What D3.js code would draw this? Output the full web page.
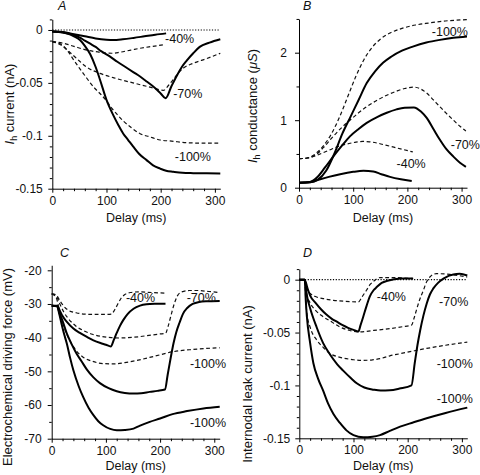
<!DOCTYPE html>
<html><head><meta charset="utf-8">
<script src="https://cdn.jsdelivr.net/npm/d3@7"></script>
<style>
html,body{margin:0;padding:0;background:#fff;}
svg{display:block;font-family:"Liberation Sans",Arial,Helvetica,sans-serif;}
</style></head><body>
<svg id="chart" width="480" height="475"></svg>
<script>
// ---------- shared axis data ----------
const delayTicks = [0, 100, 200, 300];
const delayLabels = ["0", "100", "200", "300"];
const delayMinor = [20, 40, 60, 80, 120, 140, 160, 180, 220, 240, 260, 280];

// ---------- Panel A: Ih current (nA) ----------
const aTicks = [0, -0.05, -0.1, -0.15];
const aLabels = ["0", "-0.05", "-0.1", "-0.15"];
const aMinor = [0.01, -0.01, -0.02, -0.03, -0.04, -0.06, -0.07, -0.08, -0.09, -0.11, -0.12, -0.13, -0.14];
const aZero = [[0, 0], [310, 0]];
const aSolid40 = [[0,-0.0015],[20,-0.002],[40,-0.004],[60,-0.006],[80,-0.008],[100,-0.0092],[112,-0.0095],[130,-0.0088],[150,-0.0075],[170,-0.006],[190,-0.0045],[210,-0.0032]];
const aDash40 = [[0,-0.011],[20,-0.0125],[40,-0.0155],[60,-0.0185],[80,-0.0205],[100,-0.0218],[110,-0.022],[125,-0.021],[145,-0.019],[165,-0.017],[185,-0.0155],[205,-0.014]];
const aSolid70 = [[0,-0.0015],[20,-0.0025],[35,-0.004],[50,-0.007],[60,-0.010],[70,-0.013],[80,-0.016],[90,-0.020],[106,-0.025],[120,-0.030],[135,-0.035],[150,-0.040],[162,-0.044],[175,-0.049],[190,-0.055],[200,-0.060],[209,-0.0646],[220,-0.053],[230,-0.043],[239,-0.035],[248,-0.029],[260,-0.022],[272,-0.016],[290,-0.012],[310,-0.0088]];
const aDash70 = [[0,-0.011],[15,-0.014],[30,-0.020],[45,-0.027],[63,-0.035],[88,-0.041],[119,-0.046],[149,-0.050],[180,-0.054],[205,-0.057],[215,-0.052],[223,-0.047],[232,-0.041],[242,-0.036],[260,-0.0315],[285,-0.027],[310,-0.022]];
const aSolid100 = [[0,-0.0015],[15,-0.002],[26,-0.0032],[40,-0.006],[51,-0.0095],[60,-0.015],[70,-0.023],[80,-0.035],[88,-0.047],[100,-0.066],[112,-0.080],[122,-0.090],[131,-0.098],[140,-0.104],[149,-0.110],[160,-0.117],[174,-0.123],[186,-0.128],[199,-0.131],[210,-0.133],[223,-0.134],[240,-0.135],[260,-0.1353],[285,-0.1355],[310,-0.1356]];
const aDash100 = [[0,-0.011],[10,-0.012],[20,-0.015],[30,-0.021],[39,-0.028],[50,-0.036],[60,-0.043],[70,-0.050],[80,-0.056],[88,-0.060],[100,-0.067],[110,-0.074],[120,-0.080],[131,-0.086],[145,-0.092],[162,-0.098],[180,-0.101],[199,-0.104],[220,-0.105],[248,-0.1065],[280,-0.107],[310,-0.107]];
const aPctLabels = [["-40%", 208, -0.0123], ["-70%", 223, -0.0646], ["-100%", 226, -0.1238]];

// ---------- Panel B: Ih conductance (uS) ----------
const bTicks = [0, 1, 2];
const bLabels = ["0", "1", "2"];
const bMinor = [0.5, 1.5, 2.5];
const bSolid40 = [[0,0.074],[20,0.08],[33,0.11],[55,0.16],[76,0.20],[100,0.235],[119,0.25],[137,0.24],[152,0.20],[168,0.16],[188,0.125],[208,0.10]];
const bDash40 = [[0,0.43],[15,0.44],[30,0.47],[45,0.52],[60,0.57],[75,0.62],[90,0.65],[105,0.675],[118,0.685],[130,0.68],[145,0.66],[160,0.63],[175,0.60],[190,0.57],[210,0.53]];
const bSolid70 = [[0,0.074],[20,0.085],[33,0.15],[48,0.30],[63,0.46],[80,0.63],[94,0.76],[110,0.87],[125,0.96],[145,1.05],[162,1.11],[180,1.16],[195,1.185],[212,1.19],[225,1.13],[236,1.03],[248,0.87],[260,0.71],[272,0.57],[285,0.46],[297,0.37],[308,0.31]];
const bDash70 = [[0,0.43],[15,0.44],[33,0.50],[48,0.62],[63,0.76],[80,0.90],[94,1.00],[110,1.11],[125,1.20],[145,1.30],[162,1.37],[180,1.43],[195,1.47],[212,1.49],[225,1.46],[236,1.40],[248,1.30],[260,1.20],[272,1.10],[285,1.00],[297,0.91],[308,0.84]];
const bSolid100 = [[0,0.074],[20,0.08],[35,0.12],[50,0.25],[65,0.50],[80,0.80],[95,1.05],[110,1.30],[125,1.55],[140,1.72],[155,1.85],[170,1.94],[190,2.03],[210,2.09],[235,2.15],[260,2.19],[285,2.22],[310,2.24]];
const bDash100 = [[0,0.43],[15,0.44],[30,0.50],[45,0.62],[60,0.80],[75,1.05],[90,1.35],[105,1.65],[120,1.90],[135,2.08],[150,2.20],[170,2.30],[190,2.36],[215,2.41],[240,2.44],[270,2.47],[310,2.49]];
const bPctLabels = [["-100%", 245, 2.25], ["-70%", 280, 0.573], ["-40%", 180, 0.287]];

// ---------- Panel C: electrochemical driving force (mV) ----------
const cTicks = [-20, -30, -40, -50, -60, -70];
const cLabels = ["-20", "-30", "-40", "-50", "-60", "-70"];
const cMinor = [-25, -35, -45, -55, -65];
const cSolid40 = [[0,-30.5],[10,-30.5],[15,-32],[20,-33.6],[28,-35.3],[40,-37.3],[52,-38.6],[65,-39.8],[77,-40.8],[90,-41.6],[100,-42.1],[109,-42.6],[115,-40.5],[120,-38.6],[126,-36.5],[132,-34.8],[140,-33],[151,-31.4],[163,-30.5],[175,-30.1],[190,-29.95],[210,-29.9]];
const cDash40 = [[0,-27],[8,-27.3],[15,-29],[22,-30.6],[30,-31.8],[45,-32.6],[60,-33],[80,-33.1],[100,-33.1],[110,-33],[116,-31.8],[122,-30],[128,-28.3],[135,-27.2],[145,-26.6],[160,-26.4],[185,-26.6],[210,-26.8]];
const cSolid70 = [[0,-30.5],[10,-30.6],[15,-33],[20,-35],[28,-38.8],[37,-42],[46,-44.8],[55,-47],[65,-49.5],[77,-51.8],[89,-53.5],[105,-55],[120,-55.9],[135,-56.4],[151,-56.6],[165,-56.5],[181,-56.1],[195,-55.8],[209,-55.4],[214,-51],[220,-45.6],[225,-41.5],[230,-38.3],[236,-35.5],[242,-33],[250,-31.2],[260,-30],[272,-29.4],[285,-29.2],[310,-29.1]];
const cDash70 = [[0,-27],[8,-27.5],[15,-30],[22,-32.3],[30,-34.2],[45,-36.6],[60,-38.0],[75,-39],[90,-39.6],[110,-40.0],[125,-40.1],[140,-40.0],[162,-39.7],[185,-39.2],[200,-38.9],[210,-38.7],[215,-36.5],[220,-33.5],[226,-30],[232,-27.6],[240,-26.4],[254,-26.0],[270,-26.0],[290,-26.3],[310,-26.6]];
const cSolid100 = [[0,-30.5],[10,-30.7],[14,-33],[18,-35.8],[23,-39],[28,-41.8],[34,-46],[40,-49.7],[50,-54.5],[58,-57.6],[68,-60.8],[77,-63],[86,-64.8],[95,-66],[108,-67.1],[120,-67.5],[135,-67.4],[151,-67],[162,-66.2],[181,-65],[200,-64],[223,-62.7],[250,-61.8],[280,-61],[310,-60.5]];
const cDash100 = [[0,-27],[8,-28],[15,-32.5],[22,-36.5],[34,-41],[46,-44],[58,-45.8],[75,-47],[95,-47.7],[115,-47.8],[135,-47.4],[162,-46.6],[190,-45.5],[223,-44.2],[260,-43.5],[310,-43]];
const cPctLabels = [["-40%", 137, -29.4], ["-70%", 249, -29.3], ["-100%", 255, -48.9], ["-100%", 255, -66.4]];

// ---------- Panel D: internodal leak current (nA) ----------
const dTicks = [0, -0.05, -0.1, -0.15];
const dLabels = ["0", "-0.05", "-0.1", "-0.15"];
const dMinor = [0.01, -0.01, -0.02, -0.03, -0.04, -0.06, -0.07, -0.08, -0.09, -0.11, -0.12, -0.13, -0.14];
const dZero = [[0, 0], [310, 0]];
const dSolid40 = [[0,0],[10,0],[15,-0.008],[20,-0.015],[30,-0.022],[40,-0.028],[50,-0.033],[60,-0.037],[70,-0.040],[80,-0.043],[90,-0.0455],[100,-0.0475],[109,-0.049],[113,-0.043],[118,-0.035],[124,-0.025],[130,-0.016],[137,-0.010],[143,-0.007],[152,-0.003],[161,-0.0013],[175,0.0005],[190,0.001],[210,0.001]];
const dDash40 = [[0,0],[10,0],[14,-0.009],[20,-0.013],[32,-0.0164],[45,-0.018],[63,-0.0195],[85,-0.0205],[109,-0.021],[115,-0.017],[120,-0.013],[124,-0.010],[130,-0.005],[137,-0.0015],[149,0.002],[173,0.002],[210,0.001]];
const dSolid70 = [[0,0],[10,0],[14,-0.015],[20,-0.027],[32,-0.045],[44,-0.060],[57,-0.071],[70,-0.080],[81,-0.086],[95,-0.093],[106,-0.098],[120,-0.102],[137,-0.104],[150,-0.1048],[167,-0.1046],[185,-0.103],[207,-0.100],[213,-0.079],[218,-0.062],[223,-0.048],[229,-0.034],[235,-0.0227],[241,-0.014],[247,-0.0085],[256,-0.003],[266,0.001],[284,0.005],[296,0.0055],[310,0.004]];
const dDash70 = [[0,0],[10,0],[13,-0.012],[20,-0.022],[30,-0.029],[44,-0.035],[60,-0.040],[75,-0.0448],[90,-0.0475],[109,-0.0495],[137,-0.048],[167,-0.0463],[190,-0.0445],[207,-0.043],[212,-0.036],[216,-0.029],[222,-0.019],[229,-0.010],[235,-0.002],[242,0.003],[253,0.0057],[278,0.005],[310,0.0025]];
const dSolid100 = [[0,0],[10,0],[12,-0.02],[14,-0.035],[20,-0.06],[26,-0.079],[35,-0.094],[44,-0.105],[53,-0.117],[63,-0.127],[75,-0.1355],[87,-0.1425],[100,-0.147],[118,-0.149],[135,-0.1485],[149,-0.147],[167,-0.143],[186,-0.139],[210,-0.135],[235,-0.131],[270,-0.126],[310,-0.121]];
const dDash100 = [[0,0],[10,0],[12,-0.02],[14,-0.032],[20,-0.045],[32,-0.057],[44,-0.064],[57,-0.070],[72,-0.073],[87,-0.0747],[100,-0.0757],[118,-0.0763],[135,-0.0758],[149,-0.0747],[167,-0.072],[186,-0.070],[210,-0.0675],[235,-0.065],[270,-0.062],[310,-0.059]];
const dPctLabels = [["-40%", 143, -0.0201], ["-70%", 258, -0.0249], ["-100%", 253.5, -0.0835], ["-100%", 253.5, -0.1163]];

// ---------- drawing ----------
const svg = d3.select("#chart");
const FONT_TICK = 12, FONT_TITLE = 12.5, FONT_YTITLE = 13, FONT_PCT = 12.5;

function panel(cfg) {
  const x = d3.scaleLinear().domain([0, 310]).range([cfg.left, cfg.right]);
  const y = d3.scaleLinear().domain(cfg.yDomain).range([cfg.bottom, cfg.top]);
  const g = svg.append("g").style("color", "#000");
  const y0 = y(cfg.yDomain[0]);

  // minor x ticks
  const xm = g.append("g").attr("transform", `translate(0,${y0})`)
    .call(d3.axisBottom(x).tickValues(delayMinor).tickFormat("").tickSize(2.5).tickSizeOuter(0));
  xm.select(".domain").remove();
  // major x axis
  const xa = g.append("g").attr("transform", `translate(0,${y0})`)
    .call(d3.axisBottom(x).tickValues(delayTicks).tickFormat((d, i) => delayLabels[i])
      .tickSize(4).tickSizeOuter(0).tickPadding(3.5));
  xa.selectAll("text").attr("font-size", FONT_TICK).attr("fill", "#111");
  xa.attr("font-family", null);

  // minor y ticks
  const x0 = x(0);
  const ym = g.append("g").attr("transform", `translate(${x0},0)`)
    .call(d3.axisLeft(y).tickValues(cfg.minor).tickFormat("").tickSize(2.5).tickSizeOuter(0));
  ym.select(".domain").remove();
  const ya = g.append("g").attr("transform", `translate(${x0},0)`)
    .call(d3.axisLeft(y).tickValues(cfg.ticks).tickFormat((d, i) => cfg.labels[i])
      .tickSize(4).tickSizeOuter(0).tickPadding(cfg.ypad));
  ya.selectAll("text").attr("font-size", FONT_TICK).attr("fill", "#111");
  ya.attr("font-family", null);
  g.selectAll("line, path.domain").attr("stroke-width", 1);

  const line = d3.line().x(d => x(d[0])).y(d => y(d[1])).curve(d3.curveMonotoneX);
  const plot = g.append("g");
  if (cfg.zero) {
    plot.append("path").attr("d", d3.line().x(d => x(d[0])).y(d => y(d[1]))(cfg.zero))
      .attr("fill", "none").attr("stroke", "#000").attr("stroke-width", 1.2)
      .attr("stroke-dasharray", "1.2,1.6");
  }
  cfg.dashed.forEach(s => {
    plot.append("path").attr("d", line(s)).attr("fill", "none")
      .attr("stroke", "#111").attr("stroke-width", 1.2).attr("stroke-dasharray", "3.8,2.6");
  });
  cfg.solid.forEach(s => {
    plot.append("path").attr("d", line(s)).attr("fill", "none")
      .attr("stroke", "#000").attr("stroke-width", 2).attr("stroke-linejoin", "round");
  });
  cfg.pct.forEach(p => {
    g.append("text").attr("x", x(p[1])).attr("y", y(p[2]))
      .attr("font-size", FONT_PCT).attr("fill", "#111").text(p[0]);
  });

  // panel letter
  g.append("text").attr("x", cfg.letterX).attr("y", cfg.letterY)
    .attr("font-size", 12.5).attr("font-style", "italic").attr("fill", "#111").text(cfg.letter);

  // x title
  g.append("text").attr("x", (cfg.left + cfg.right) / 2).attr("y", cfg.xTitleY)
    .attr("text-anchor", "middle").attr("font-size", FONT_TITLE).attr("fill", "#111").text("Delay (ms)");

  // y title
  const yt = g.append("text")
    .attr("transform", `translate(${cfg.yTitleX},${cfg.yTitleY}) rotate(-90)`)
    .attr("text-anchor", "middle").attr("font-size", FONT_YTITLE).attr("fill", "#111");
  cfg.yTitle(yt);
}

function ihTitle(rest, italicTail) {
  return t => {
    t.append("tspan").attr("font-style", "italic").text("I");
    t.append("tspan").attr("font-size", 9).attr("dy", 3).text("h");
    t.append("tspan").attr("dy", -3).text(rest);
    if (italicTail) {
      t.append("tspan").attr("font-style", "italic").text(italicTail);
      t.append("tspan").text(")");
    }
  };
}

panel({
  left: 52.3, right: 220.3, top: 19.4, bottom: 188.7, yDomain: [-0.15, 0.01],
  ticks: aTicks, labels: aLabels, minor: aMinor, ypad: 5.5,
  zero: aZero, solid: [aSolid40, aSolid70, aSolid100], dashed: [aDash40, aDash70, aDash100],
  pct: aPctLabels, letter: "A", letterX: 58, letterY: 10,
  xTitleY: 221.5, yTitleX: 14, yTitleY: 104,
  yTitle: ihTitle(" current (nA)")
});
panel({
  left: 299, right: 467, top: 18.95, bottom: 187.7, yDomain: [0, 2.5],
  ticks: bTicks, labels: bLabels, minor: bMinor, ypad: 8,
  solid: [bSolid40, bSolid70, bSolid100], dashed: [bDash40, bDash70, bDash100],
  pct: bPctLabels, letter: "B", letterX: 303, letterY: 10,
  xTitleY: 221.5, yTitleX: 257, yTitleY: 106,
  yTitle: ihTitle(" conductance (", "\u03BCS")
});
panel({
  left: 51.7, right: 219.7, top: 265.25, bottom: 438.7, yDomain: [-70, -18.5],
  ticks: cTicks, labels: cLabels, minor: cMinor, ypad: 6,
  solid: [cSolid40, cSolid70, cSolid100], dashed: [cDash40, cDash70, cDash100],
  pct: cPctLabels, letter: "C", letterX: 60, letterY: 257,
  xTitleY: 470, yTitleX: 11.5, yTitleY: 367,
  yTitle: t => t.text("Electrochemical driving force (mV)")
});
panel({
  left: 299.3, right: 467.3, top: 269.1, bottom: 438.3, yDomain: [-0.15, 0.01],
  ticks: dTicks, labels: dLabels, minor: dMinor, ypad: 5,
  zero: dZero, solid: [dSolid40, dSolid70, dSolid100], dashed: [dDash40, dDash70, dDash100],
  pct: dPctLabels, letter: "D", letterX: 303, letterY: 257,
  xTitleY: 470, yTitleX: 252, yTitleY: 384,
  yTitle: t => t.text("Internodal leak current (nA)")
});
</script>
</body></html>
